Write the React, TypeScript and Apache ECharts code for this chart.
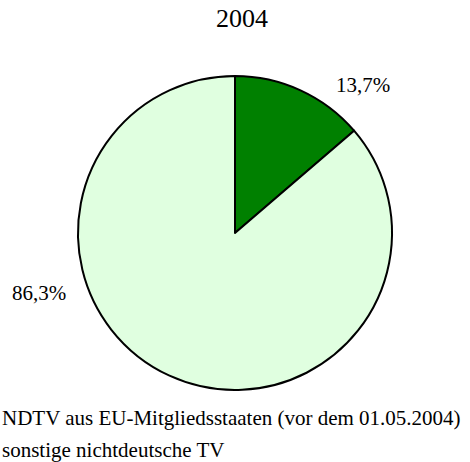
import React, { useEffect, useRef } from "react";
import * as echarts from "echarts";

const TITLE = "2004";
const CATEGORIES = [
  "NDTV aus EU-Mitgliedsstaaten (vor dem 01.05.2004)",
  "sonstige nichtdeutsche TV",
];
const VALUES = [13.7, 86.3];
const COLORS = ["#008000", "#E0FFE0"];

const FONT = "'Liberation Serif', 'Times New Roman', serif";
const LABEL_POS = [
  { x: 363, y: 85 },
  { x: 39, y: 293 },
];

export default function App() {
  const ref = useRef<HTMLDivElement>(null);
  useEffect(() => {
    if (!ref.current) return;
    const chart = echarts.init(ref.current, null, { renderer: "svg" });
    chart.setOption({
      animation: false,
      backgroundColor: "#ffffff",
      title: {
        text: TITLE,
        left: 216,
        top: 5,
        padding: 0,
        textStyle: { fontFamily: FONT, fontSize: 26, fontWeight: "normal", color: "#000" },
      },
      legend: {
        orient: "vertical",
        left: -3,
        top: 407,
        padding: 0,
        itemWidth: 0,
        itemHeight: 0,
        itemGap: 11,
        icon: "none",
        selectedMode: false,
        data: CATEGORIES,
        textStyle: { fontFamily: FONT, fontSize: 21, color: "#000" },
      },
      series: [
        {
          type: "pie",
          center: [235, 233],
          radius: 157,
          startAngle: 90,
          clockwise: true,
          data: CATEGORIES.map((name, i) => ({
            name,
            value: VALUES[i],
            itemStyle: { color: COLORS[i] },
          })),
          itemStyle: { borderColor: "#000", borderWidth: 2 },
          label: {
            show: true,
            position: "outside",
            fontFamily: FONT,
            fontSize: 21,
            color: "#000",
            formatter: (p: any) => p.value.toFixed(1).replace(".", ",") + "%",
          },
          labelLine: { show: false },
          labelLayout: (p: any) => ({
            x: LABEL_POS[p.dataIndex].x,
            y: LABEL_POS[p.dataIndex].y,
            align: "center",
            verticalAlign: "middle",
          }),
          emphasis: { disabled: true },
        },
      ],
    });
    return () => chart.dispose();
  }, []);
  return <div ref={ref} style={{ width: 470, height: 462, position: "absolute", left: 0, top: 0 }} />;
}
